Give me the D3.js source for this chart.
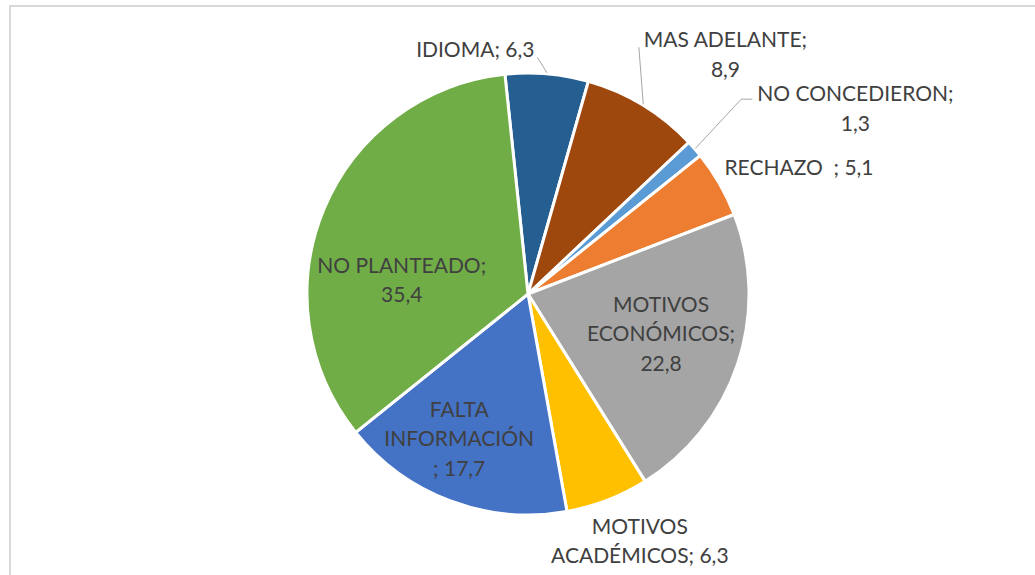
<!DOCTYPE html>
<html lang="es">
<head>
<meta charset="UTF-8">
<title>Motivos</title>
<script src="https://cdn.jsdelivr.net/npm/d3@7"></script>
<style>
  body { margin: 0; background: #fff; }
  svg { display: block; }
  .slices path { stroke: #fff; stroke-width: 3px; }
  .labels text { fill: #404040; font-family: Lato, sans-serif; font-size: 21px; white-space: pre; }
  .leaders polyline { fill: none; stroke: #a6a6a6; stroke-width: 1px; }
</style>
</head>
<body>
<svg id="chart" width="1035" height="575"></svg>
<script>
// data, in the order Excel draws the slices (clockwise)
var categories = ["IDIOMA", "MAS ADELANTE", "NO CONCEDIERON", "RECHAZO  ",
                  "MOTIVOS ECONÓMICOS", "MOTIVOS ACADÉMICOS", "FALTA INFORMACIÓN ", "NO PLANTEADO"];
var values = [6.3, 8.9, 1.3, 5.1, 22.8, 6.3, 17.7, 35.4];
var colors = ["#255e91", "#9e480e", "#5b9bd5", "#ed7d31", "#a5a5a5", "#ffc000", "#4472c4", "#70ad47"];

// where each label sits: k = fraction of the radius along the slice middle,
// dx/dy = nudge of the block centre, wrap = max line width
var labelLayout = [
  {k: 1.12, dx: -74, dy: 2,  wrap: 300, leader: {side: "right", gap: 3}},
  {k: 1.25, dx: 54,  dy: -4, wrap: 175, leader: {side: "left", gap: 5}},
  {k: 1.4,  dx: 94,  dy: 17, wrap: 210, leader: {side: "left", gap: 5, elbow: 11, lift: 2}},
  {k: 1.3,  dx: 22,  dy: 16, wrap: 300},
  {k: 0.63, dx: 1,   dy: -5, wrap: 150},
  {k: 1.18, dx: 18,  dy: 3,  wrap: 190},
  {k: 0.72, dx: -13, dy: -5, wrap: 148},
  {k: 0.57, dx: -10, dy: 34, wrap: 195}
];

var svg = d3.select("#chart"),
    width = +svg.attr("width"),
    height = +svg.attr("height");

var cx = 528, cy = 294, radius = 221;
var deg = Math.PI / 180;
var lineH = 29.5, capHalf = 8;
var fmt = function(v) { return d3.format(".1f")(v).replace(".", ","); };
function polar(a, r) { return [Math.sin(a) * r, -Math.cos(a) * r]; }

// chart area border, runs off the window on the right and bottom
svg.append("rect")
    .attr("x", 10).attr("y", 6)
    .attr("width", width + 20).attr("height", height + 20)
    .attr("fill", "none")
    .attr("stroke", "#d9d9d9")
    .attr("stroke-width", 2);

var data = categories.map(function(c, i) {
  return {name: c, value: values[i], color: colors[i], layout: labelLayout[i]};
});

var pie = d3.pie()
    .sort(null)
    .value(function(d) { return d.value; })
    .startAngle(-6 * deg)
    .endAngle(354 * deg);

var arc = d3.arc().innerRadius(0).outerRadius(radius);
var arcs = pie(data);

var g = svg.append("g").attr("transform", "translate(" + cx + "," + cy + ")");

g.append("g").attr("class", "slices")
  .selectAll("path")
  .data(arcs)
  .join("path")
    .attr("d", arc)
    .attr("fill", function(d) { return d.data.color; });

var leaders = g.append("g").attr("class", "leaders");
var labels = g.append("g").attr("class", "labels");

// hidden text for measuring
var meas = labels.append("text").attr("visibility", "hidden");
function textW(s) { meas.text(s); return meas.node().getComputedTextLength(); }

function wrap(s, maxW) {
  var words = s.split(" "), lines = [], cur = null;
  words.forEach(function(w) {
    if (cur === null) { cur = w; return; }
    var test = cur + " " + w;
    if (w !== "" && textW(test) > maxW) { lines.push(cur); cur = w; }
    else cur = test;
  });
  lines.push(cur);
  return lines;
}

arcs.forEach(function(d) {
  var L = d.data.layout;
  var mid = (d.startAngle + d.endAngle) / 2;
  var p = polar(mid, L.k * radius);
  var bx = p[0] + L.dx, by = p[1] + L.dy;
  var lines = wrap(d.data.name + "; " + fmt(d.data.value), L.wrap);
  var y0 = by - (lines.length - 1) * lineH / 2 + capHalf;

  var t = labels.append("text").attr("text-anchor", "middle");
  lines.forEach(function(s, i) {
    t.append("tspan").attr("x", bx).attr("y", y0 + i * lineH).text(s);
  });

  if (L.leader) {
    var w = textW(lines[0]);
    var ax = L.leader.side === "right" ? bx + w / 2 + L.leader.gap : bx - w / 2 - L.leader.gap;
    var ay = y0 - (L.leader.lift || 0);
    var pts = [polar(mid, radius + 1)];
    if (L.leader.elbow) pts.push([ax - L.leader.elbow, ay]);
    pts.push([ax, ay]);
    leaders.append("polyline").attr("points", pts.map(function(q) { return q.join(","); }).join(" "));
  }
});

meas.remove();
</script>
</body>
</html>
